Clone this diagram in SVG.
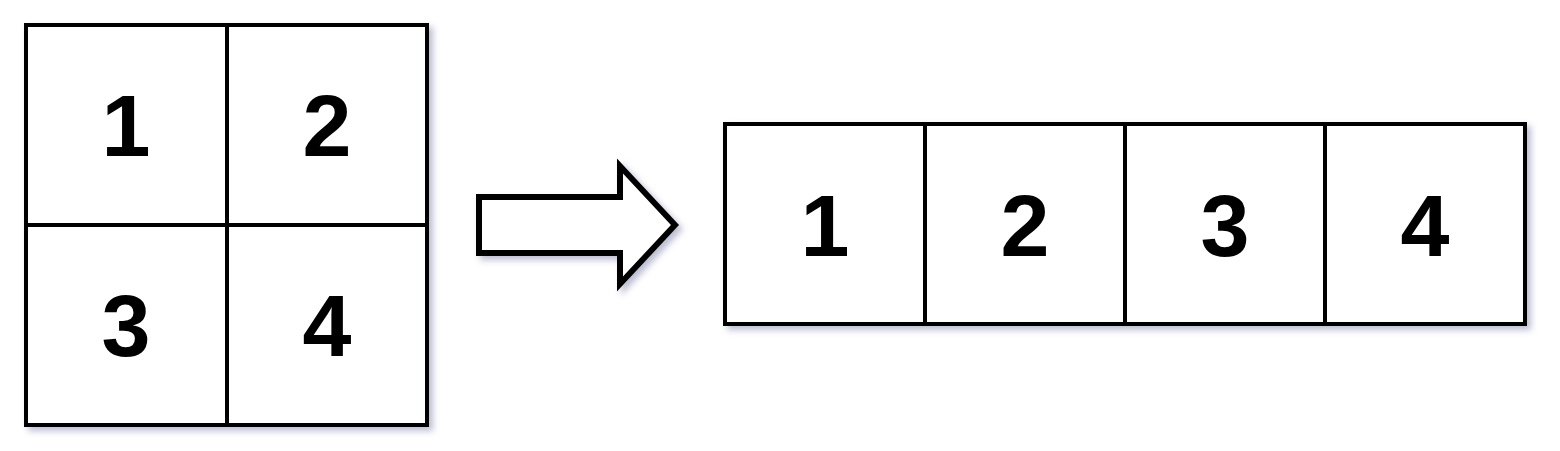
<svg xmlns="http://www.w3.org/2000/svg" width="1560" height="451" viewBox="0 0 1560 451">
<defs>
<filter id="sh" x="-10%" y="-10%" width="130%" height="130%">
<feGaussianBlur in="SourceAlpha" stdDeviation="3"/>
<feOffset dx="4" dy="4" result="b"/>
<feFlood flood-color="#6a6f9a" flood-opacity="0.45"/>
<feComposite in2="b" operator="in"/>
<feMerge><feMergeNode/><feMergeNode in="SourceGraphic"/></feMerge>
</filter>
</defs>
<style>
.cell{fill:#fff;stroke:#000;stroke-width:4}
.num{font-family:"Liberation Sans",Arial,sans-serif;font-weight:bold;font-size:88px;fill:#000;text-anchor:middle}
.arrow{fill:#fff;stroke:#000;stroke-width:6;stroke-linejoin:miter}
</style>
<rect width="1560" height="451" fill="#fff"/>
<g id="grid" filter="url(#sh)">
<g id="g1"><rect class="cell" x="26" y="25" width="201" height="200"/><text class="num" x="126" y="156">1</text></g>
<g id="g2"><rect class="cell" x="227" y="25" width="200" height="200"/><text class="num" x="327" y="156">2</text></g>
<g id="g3"><rect class="cell" x="26" y="225" width="201" height="200"/><text class="num" x="126" y="356">3</text></g>
<g id="g4"><rect class="cell" x="227" y="225" width="200" height="200"/><text class="num" x="327" y="356">4</text></g>
</g>
<g id="connectors">
<path class="arrow" filter="url(#sh)" d="M479,197 L620,197 L620,166 L675,225 L620,284 L620,253 L479,253 Z"/>
</g>
<g id="row" filter="url(#sh)">
<g id="r1"><rect class="cell" x="725" y="124" width="200" height="200"/><text class="num" x="825" y="256">1</text></g>
<g id="r2"><rect class="cell" x="925" y="124" width="200" height="200"/><text class="num" x="1025" y="256">2</text></g>
<g id="r3"><rect class="cell" x="1125" y="124" width="200" height="200"/><text class="num" x="1225" y="256">3</text></g>
<g id="r4"><rect class="cell" x="1325" y="124" width="200" height="200"/><text class="num" x="1425" y="256">4</text></g>
</g>
</svg>
